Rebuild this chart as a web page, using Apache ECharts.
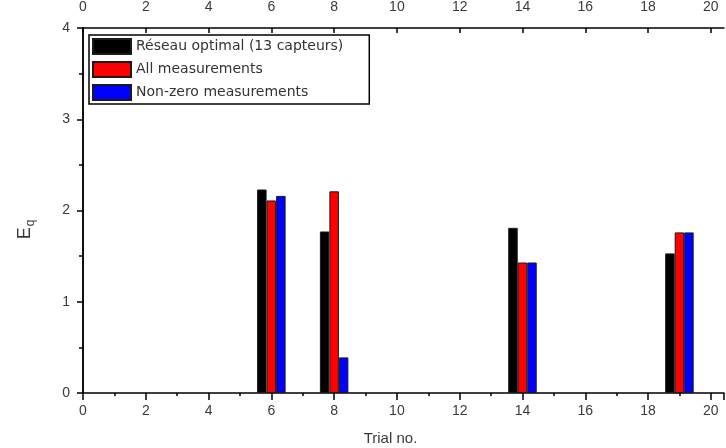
<!DOCTYPE html>
<html>
<head>
<meta charset="utf-8">
<script src="https://cdn.jsdelivr.net/npm/echarts@6/dist/echarts.min.js"></script>
<style>html,body{margin:0;padding:0;background:#fff}#c{width:726px;height:448px}</style>
</head>
<body>
<div id="c"></div>
<script>
const trials = [6, 8, 14, 19];
const reseauOptimal = [2.23, 1.77, 1.81, 1.53];
const allMeasurements = [2.11, 2.21, 1.43, 1.76];
const nonZeroMeasurements = [2.16, 0.39, 1.43, 1.76];
const seriesNames = ['Réseau optimal (13 capteurs)', 'All measurements', 'Non-zero measurements'];
const xTicks = [0, 2, 4, 6, 8, 10, 12, 14, 16, 18, 20];
const yTicks = [0, 1, 2, 3, 4];

const FONT = 'Liberation Sans, Arial, sans-serif';
const LBL = '#3a3a3a';
const pair = arr => trials.map((t, i) => [t, arr[i]]);
const fmtX = v => (Math.abs(v - Math.round(v)) < 1e-6 && xTicks.indexOf(Math.round(v)) >= 0) ? String(Math.round(v)) : '';

const chart = echarts.init(document.getElementById('c'));
const barStyle = c => ({ color: c, borderColor: '#1a1a1a', borderWidth: 1 });
chart.setOption({
  animation: false,
  backgroundColor: '#fff',
  grid: { left: 83, right: 2, top: 28, bottom: 55, containLabel: false, outerBoundsMode: 'none' },
  legend: {
    orient: 'vertical', left: 89, top: 35,
    icon: 'rect',
    itemWidth: 38, itemHeight: 15, itemGap: 6,
    padding: [3, 26, 3, 3],
    borderColor: '#000', borderWidth: 1.5,
    textStyle: { fontFamily: 'DejaVu Sans, sans-serif', fontSize: 14, lineHeight: 15, color: '#333' },
    data: seriesNames
  },
  xAxis: [{
    type: 'value', min: 0, max: 20.42, interval: 2,
    name: 'Trial no.', nameLocation: 'middle', nameGap: 38,
    nameTextStyle: { fontFamily: FONT, fontSize: 15, color: LBL, padding: [0, 26, 0, 0] },
    axisLine: { show: true, lineStyle: { color: '#000', width: 1.5 } },
    axisTick: { show: true, inside: false, length: 7, lineStyle: { color: '#000', width: 1.5 } },
    minorTick: { show: true, splitNumber: 2, length: 3, lineStyle: { color: '#000', width: 1.5 } },
    axisLabel: { fontFamily: FONT, fontSize: 14, color: LBL, margin: 11, showMaxLabel: false, formatter: fmtX },
    splitLine: { show: false }
  }, {
    type: 'value', position: 'top', min: 0, max: 20.42, interval: 2,
    axisLine: { show: true, onZero: false, lineStyle: { color: '#000', width: 1.5 } },
    axisTick: { show: true, inside: true, length: 5, lineStyle: { color: '#000', width: 1.5 } },
    axisLabel: { fontFamily: FONT, fontSize: 14, color: LBL, margin: 14, showMaxLabel: false, formatter: fmtX },
    splitLine: { show: false }
  }],
  yAxis: [{
    type: 'value', min: 0, max: 4, interval: 1,
    name: '{e|E}{q|q}', nameLocation: 'middle', nameGap: 46, nameRotate: 90,
    nameTextStyle: {
      padding: [0, 0, 0, -38],
      rich: {
        e: { fontFamily: FONT, fontSize: 18, color: LBL },
        q: { fontFamily: FONT, fontSize: 12, color: LBL, verticalAlign: 'bottom', padding: [12, 0, 0, 1] }
      }
    },
    axisLine: { show: true, lineStyle: { color: '#000', width: 1.5 } },
    axisTick: { show: true, inside: false, length: 6, lineStyle: { color: '#000', width: 1.5 } },
    minorTick: { show: true, splitNumber: 2, length: 4, lineStyle: { color: '#000', width: 1.5 } },
    axisLabel: { fontFamily: FONT, fontSize: 14, color: LBL, margin: 13 },
    splitLine: { show: false }
  }, {
    type: 'value', position: 'right', min: 0, max: 4, interval: 1,
    axisLine: { show: true, lineStyle: { color: '#000', width: 1.5 } },
    axisTick: { show: false }, axisLabel: { show: false }, splitLine: { show: false }
  }],
  series: [
    { name: seriesNames[0], type: 'bar', xAxisIndex: 0, yAxisIndex: 0, barWidth: 9.5, barGap: '0%', itemStyle: barStyle('#000000'), data: pair(reseauOptimal) },
    { name: seriesNames[1], type: 'bar', xAxisIndex: 0, yAxisIndex: 0, barWidth: 9.5, barGap: '0%', itemStyle: barStyle('#ff0000'), data: pair(allMeasurements) },
    { name: seriesNames[2], type: 'bar', xAxisIndex: 0, yAxisIndex: 0, barWidth: 9.5, barGap: '0%', itemStyle: barStyle('#0000ff'), data: pair(nonZeroMeasurements) }
  ]
});
</script>
</body>
</html>
